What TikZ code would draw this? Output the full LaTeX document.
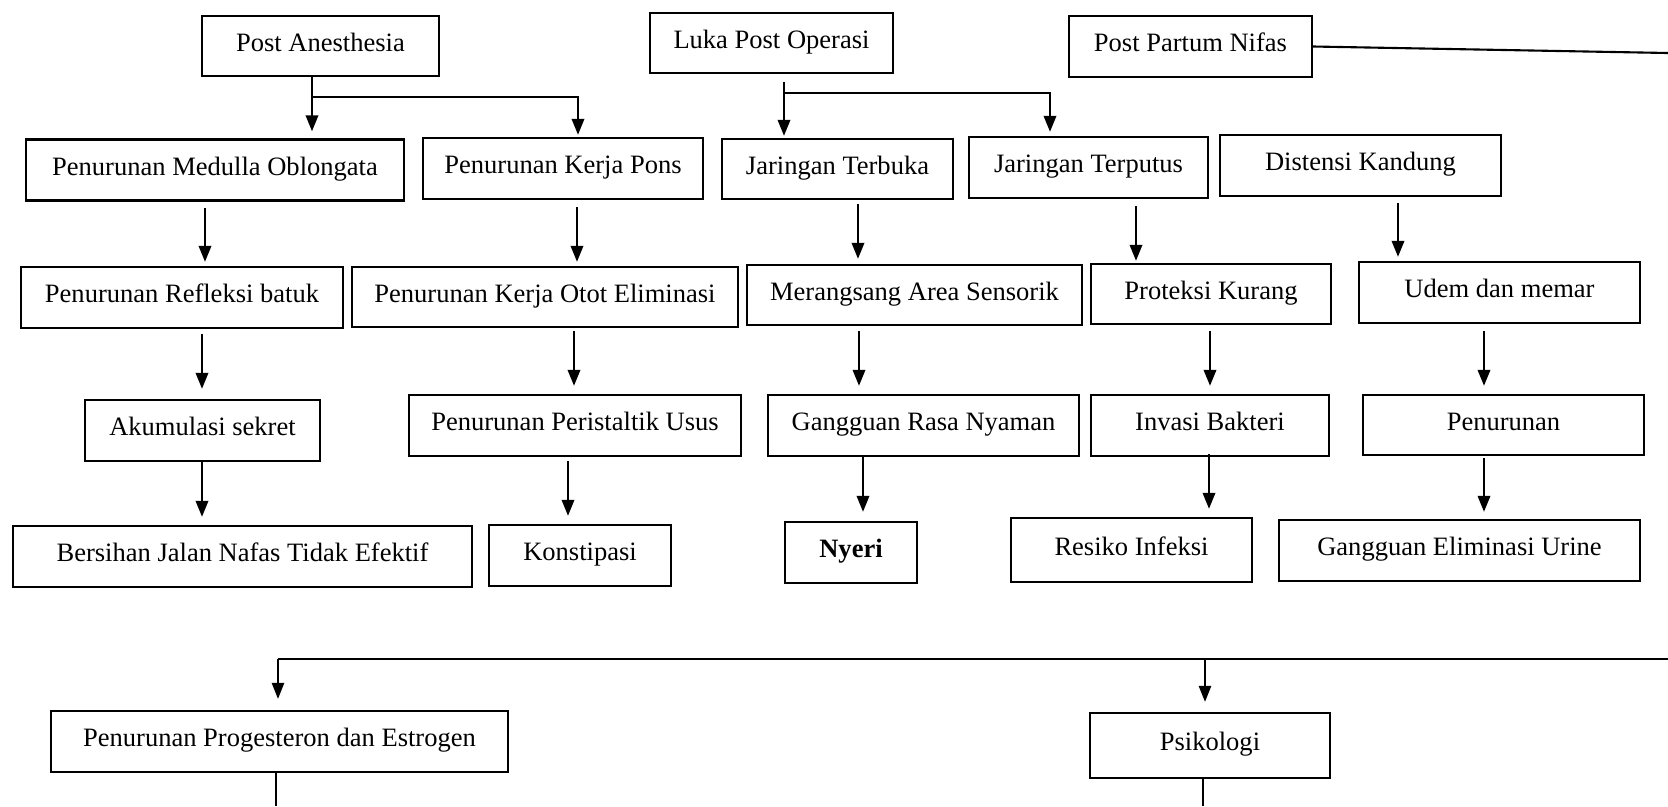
\documentclass[tikz,border=0pt]{standalone}
\usepackage{fontspec}
\setmainfont{Liberation Serif}
\usetikzlibrary{arrows.meta}

\begin{document}
\begin{tikzpicture}[x=0.02cm,y=-0.02cm]
	\tikzstyle{box} = [rectangle,fill=white,draw=black,line width=1.4pt,inner sep=0pt,text height=0.78em,text depth=0.2em,font=\fontsize{15.1}{18}\selectfont]
	\tikzstyle{arrow} = [-{Triangle[length=0.32cm,width=0.25cm]},line width=1.2pt]
	\tikzstyle{link} = [-,line width=1.2pt]
	\tikzstyle{thinlink} = [-,line width=0.6pt]
	\useasboundingbox (0,0) rectangle (1668,806);
	% top row
	\node[box,minimum width=4.74cm,minimum height=1.2cm] (pa) at (320.5,46) {Post Anesthesia};
	\node[box,minimum width=4.86cm,minimum height=1.2cm] (luka) at (771.5,43) {Luka Post Operasi};
	\node[box,minimum width=4.86cm,minimum height=1.22cm] (ppn) at (1190.5,46.5) {Post Partum Nifas};
	% second row
	\node[box,minimum width=7.56cm,minimum height=1.22cm] (medulla) at (215,170) {Penurunan Medulla Oblongata};
	\node[box,minimum width=5.6cm,minimum height=1.22cm] (pons) at (563,168.5) {Penurunan Kerja Pons};
	\node[box,minimum width=4.62cm,minimum height=1.2cm] (terbuka) at (837.5,169) {Jaringan Terbuka};
	\node[box,minimum width=4.78cm,minimum height=1.22cm] (terputus) at (1088.5,167.5) {Jaringan Terputus};
	\node[box,minimum width=5.62cm,minimum height=1.22cm] (distensi) at (1360.5,165.5) {Distensi Kandung};
	% third row
	\node[box,minimum width=6.44cm,minimum height=1.22cm] (refleksi) at (182,297.5) {Penurunan Refleksi batuk};
	\node[box,minimum width=7.72cm,minimum height=1.2cm] (otot) at (545,297) {Penurunan Kerja Otot Eliminasi};
	\node[box,minimum width=6.7cm,minimum height=1.2cm] (sensorik) at (914.5,295) {Merangsang Area Sensorik};
	\node[box,minimum width=4.8cm,minimum height=1.2cm] (proteksi) at (1211,294) {Proteksi Kurang};
	\node[box,minimum width=5.62cm,minimum height=1.22cm] (udem) at (1499.5,292.5) {Udem dan memar};
	% fourth row
	\node[box,minimum width=4.7cm,minimum height=1.22cm] (akumulasi) at (202.5,430.5) {Akumulasi sekret};
	\node[box,minimum width=6.64cm,minimum height=1.22cm] (peristaltik) at (575,425.5) {Penurunan Peristaltik Usus};
	\node[box,minimum width=6.22cm,minimum height=1.22cm] (nyaman) at (923.5,425.5) {Gangguan Rasa Nyaman};
	\node[box,minimum width=4.76cm,minimum height=1.22cm] (invasi) at (1210,425.5) {Invasi Bakteri};
	\node[box,minimum width=5.62cm,minimum height=1.2cm] (penurunan) at (1503.5,425) {Penurunan};
	% fifth row
	\node[box,minimum width=9.18cm,minimum height=1.22cm] (bersihan) at (242.5,556.5) {Bersihan Jalan Nafas Tidak Efektif};
	\node[box,minimum width=3.64cm,minimum height=1.22cm] (konstipasi) at (580,555.5) {Konstipasi};
	\node[box,minimum width=2.64cm,minimum height=1.22cm] (nyeri) at (851,552.5) {\textbf{Nyeri}};
	\node[box,minimum width=4.82cm,minimum height=1.28cm] (resiko) at (1131.5,550) {Resiko Infeksi};
	\node[box,minimum width=7.22cm,minimum height=1.22cm] (eliminasi) at (1459.5,550.5) {Gangguan Eliminasi Urine};
	% bottom row
	\node[box,minimum width=9.14cm,minimum height=1.22cm] (progesteron) at (279.5,741.5) {Penurunan Progesteron dan Estrogen};
	\node[box,minimum width=4.8cm,minimum height=1.3cm] (psikologi) at (1210,745.5) {Psikologi};
	% branch points
	\coordinate (pajoin) at (312,97);
	\coordinate (lukajoin) at (784,93);
	\coordinate (ppnout) at (1668,53);
	\coordinate (hleft) at (278,659);
	\coordinate (hmid) at (1205,659);
	\coordinate (hright) at (1668,659);
	\coordinate (progout) at (276,806);
	\coordinate (psiout) at (1203,806);
	% top to second row
	\draw[arrow,shorten >=0.14cm] (312,0 |- pa.south) -- (312,0 |- medulla.north);
	\draw[arrow,shorten >=0.04cm] (pajoin) -| (578,0 |- pons.north);
	\draw[arrow,shorten <=0.16cm,shorten >=0.04cm] (784,0 |- luka.south) -- (784,0 |- terbuka.north);
	\draw[arrow,shorten >=0.08cm] (lukajoin) -| (1050,0 |- terputus.north);
	\draw[link] (ppn.east) -- (ppnout);
	% second to third row
	\draw[arrow,shorten <=0.12cm,shorten >=0.08cm] (205,0 |- medulla.south) -- (205,0 |- refleksi.north);
	\draw[arrow,shorten <=0.14cm,shorten >=0.08cm] (577,0 |- pons.south) -- (577,0 |- otot.north);
	\draw[arrow,shorten <=0.08cm,shorten >=0.1cm] (858,0 |- terbuka.south) -- (858,0 |- sensorik.north);
	\draw[arrow,shorten <=0.14cm,shorten >=0.04cm] (1136,0 |- terputus.south) -- (1136,0 |- proteksi.north);
	\draw[arrow,shorten <=0.12cm,shorten >=0.08cm] (1398,0 |- distensi.south) -- (1398,0 |- udem.north);
	% third to fourth row
	\draw[arrow,shorten <=0.1cm,shorten >=0.2cm] (202,0 |- refleksi.south) -- (202,0 |- akumulasi.north);
	\draw[arrow,shorten <=0.06cm,shorten >=0.16cm] (574,0 |- otot.south) -- (574,0 |- peristaltik.north);
	\draw[arrow,shorten <=0.1cm,shorten >=0.16cm] (859,0 |- sensorik.south) -- (859,0 |- nyaman.north);
	\draw[arrow,shorten <=0.12cm,shorten >=0.16cm] (1210,0 |- proteksi.south) -- (1210,0 |- invasi.north);
	\draw[arrow,shorten <=0.14cm,shorten >=0.16cm] (1484,0 |- udem.south) -- (1484,0 |- penurunan.north);
	% fourth to fifth row
	\draw[arrow,shorten >=0.16cm] (202,0 |- akumulasi.south) -- (202,0 |- bersihan.north);
	\draw[arrow,shorten <=0.08cm,shorten >=0.16cm] (568,0 |- peristaltik.south) -- (568,0 |- konstipasi.north);
	\draw[arrow,shorten >=0.18cm] (863,0 |- nyaman.south) -- (863,0 |- nyeri.north);
	\draw[arrow,shorten <=-0.06cm,shorten >=0.16cm] (1209,0 |- invasi.south) -- (1209,0 |- resiko.north);
	\draw[arrow,shorten <=0.04cm,shorten >=0.14cm] (1484,0 |- penurunan.south) -- (1484,0 |- eliminasi.north);
	% lower branch
	\draw[thinlink] (hright) -- (hleft);
	\draw[arrow,line width=0.7pt,shorten >=0.22cm] (hleft) -- (278,0 |- progesteron.north);
	\draw[arrow,line width=0.7pt,shorten >=0.2cm] (hmid) -- (1205,0 |- psikologi.north);
	\draw[thinlink] (276,0 |- progesteron.south) -- (progout);
	\draw[thinlink] (1203,0 |- psikologi.south) -- (psiout);
\end{tikzpicture}
\end{document}
